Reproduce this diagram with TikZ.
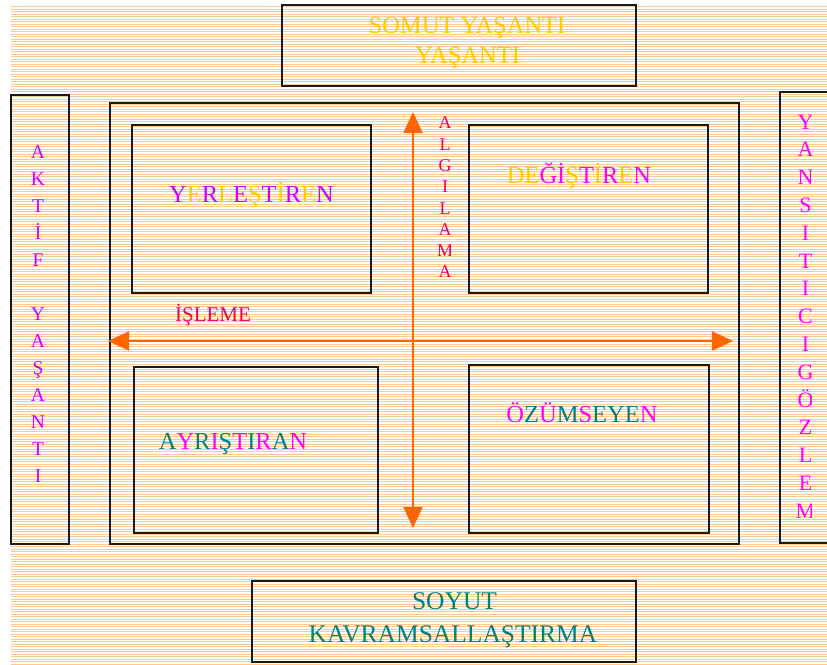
\documentclass[tikz,border=0pt]{standalone}
\usepackage{fontspec}
\setmainfont{Liberation Serif}
\usetikzlibrary{arrows.meta}

\definecolor{stripec}{RGB}{255,202,145}
\definecolor{yel}{RGB}{255,204,0}
\definecolor{vio}{RGB}{204,0,255}
\definecolor{mag}{RGB}{255,0,255}
\definecolor{tealc}{RGB}{0,128,128}
\definecolor{crim}{RGB}{235,0,100}
\definecolor{arrowc}{RGB}{255,102,0}
\definecolor{framec}{RGB}{25,25,25}

\newcommand{\cY}[1]{\textcolor{yel}{#1}}
\newcommand{\cV}[1]{\textcolor{vio}{#1}}
\newcommand{\cM}[1]{\textcolor{mag}{#1}}
\newcommand{\cT}[1]{\textcolor{tealc}{#1}}

\tikzset{
  stripe/.style={draw=stripec, line width=1pt},
  frame/.style={draw=framec, line width=1.7pt, inner sep=0pt, fill=none},
  bigtext/.style={font=\fontsize{24.5}{30}\selectfont, inner sep=0pt, anchor=base},
  axis arrow/.style={draw=arrowc, line width=2pt,
    {Triangle[length=21pt,width=19pt]}-{Triangle[length=21pt,width=19pt]}},
  letters/.style={inner sep=0pt, align=center}
}

\begin{document}
\begin{tikzpicture}[x=1pt,y=-1pt]
  \useasboundingbox (0,0) rectangle (827,664);

  % striped background
  \foreach \yy in {6.5,9,...,664} \draw[stripe] (11,\yy) -- (827,\yy);

  % outer frames
  \node[frame, minimum width=354pt, minimum height=81pt] (top) at (459,45.5) {};
  \node[frame, minimum width=58pt, minimum height=449pt] (left) at (40,319.5) {};
  \node[frame, minimum width=60pt, minimum height=451pt] (right) at (810,317.5) {};
  \node[frame, minimum width=629pt, minimum height=441pt] (inner) at (424.5,323.5) {};
  \node[frame, minimum width=384pt, minimum height=81pt] (bottom) at (444,621.5) {};

  % four quadrant frames
  \node[frame, minimum width=239pt, minimum height=168pt] (q1) at (251.5,209) {};
  \node[frame, minimum width=239pt, minimum height=168pt] (q2) at (588.5,209) {};
  \node[frame, minimum width=244pt, minimum height=166pt] (q3) at (256,450) {};
  \node[frame, minimum width=240pt, minimum height=168pt] (q4) at (589,449) {};

  % axes
  \coordinate (vtop) at (413,112);
  \coordinate (vbot) at (413,528);
  \coordinate (hleft) at (108,341);
  \coordinate (hright) at (733,341);
  \draw[axis arrow] (vbot) -- (vtop);
  \draw[axis arrow] (hleft) -- (hright);

  % titles of the outer frames
  \node[bigtext, text=yel] (somut1) at (467,33) {SOMUT YAŞANTI};
  \node[bigtext, text=yel] (somut2) at (467.5,63) {YAŞANTI};
  \node[bigtext, text=tealc, font=\fontsize{25.5}{30}\selectfont] (soyut1) at (454.5,609) {SOYUT};
  \node[bigtext, text=tealc, font=\fontsize{25.5}{30}\selectfont] (soyut2) at (453,642) {KAVRAMSALLAŞTIRMA};

  % quadrant labels
  \node[bigtext] (yer) at (251.5,202)
    {\cV{Y}\cY{E}\cV{R}\cY{L}\cV{E}\cY{Ş}\cV{T}\cY{İ}\cV{R}\cY{E}\cV{N}};
  \node[bigtext] (deg) at (579,183)
    {\cY{D}\cY{E}\cM{Ğ}\cM{İ}\cY{Ş}\cM{T}\cY{İ}\cM{R}\cY{E}\cM{N}};
  \node[bigtext] (ayr) at (233,449)
    {\cT{A}\cM{Y}\cT{R}\cM{I}\cT{Ş}\cM{T}\cT{I}\cM{R}\cT{A}\cM{N}};
  \node[bigtext] (ozu) at (582,422)
    {\cM{Ö}\cT{Z}\cM{Ü}\cT{M}\cM{S}\cT{E}\cT{Y}\cT{E}\cM{N}};

  % axis labels
  \node[inner sep=0pt, anchor=base, text=crim, font=\fontsize{21}{24}\selectfont] (isleme) at (213,321) {İŞLEME};
  \begin{scope}
    \clip (430,100) rectangle (450.5,300);
    \node[letters, text=crim, font=\fontsize{18}{21.3}\selectfont] (alg) at (445,197.5)
      {A\\L\\G\\I\\L\\A\\M\\A};
  \end{scope}

  % side columns
  \node[letters, text=vio, font=\fontsize{19.5}{27}\selectfont] (aktif) at (38,314.5)
    {A\\K\\T\\İ\\F\\[27pt]Y\\A\\Ş\\A\\N\\T\\I};
  \begin{scope}
    \clip (790,100) rectangle (811.5,540);
    \node[letters, text=mag, font=\fontsize{22}{27.8}\selectfont] (yans) at (805.5,316.5)
      {Y\\A\\N\\S\\I\\T\\I\\C\\I\\G\\Ö\\Z\\L\\E\\M};
  \end{scope}
\end{tikzpicture}
\end{document}
